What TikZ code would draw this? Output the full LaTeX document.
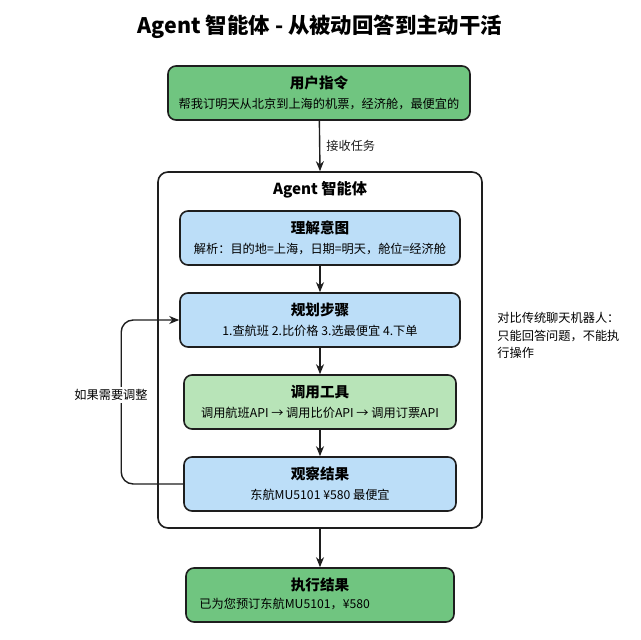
\documentclass[tikz,border=0pt]{standalone}
\usepackage{fontspec}
\setmainfont{Noto Sans CJK SC}
\usetikzlibrary{arrows.meta}
\definecolor{usergr}{RGB}{112,197,128}
\definecolor{stepbl}{RGB}{188,222,248}
\definecolor{toolgr}{RGB}{184,228,184}
\definecolor{edge}{RGB}{30,30,30}
\newcommand{\boxhead}[1]{{\bfseries\fontsize{7.3}{10}\selectfont #1}}
\newcommand{\boxsub}[1]{{\fontsize{6.1}{10}\selectfont #1}}

\begin{document}
\begin{tikzpicture}[x=0.5pt,y=-0.5pt,
  box/.style={draw=edge,line width=0.8pt,rounded corners=4pt,minimum width=#1,
    minimum height=27pt,inner sep=0pt,align=center,font=\fontsize{6.1}{10}\selectfont},
  flow/.style={-{Stealth[length=5pt,width=4pt]},edge,line width=0.7pt},
  lbl/.style={font=\fontsize{6.1}{8.7}\selectfont}]
  \fill[white] (0,0) rectangle (640,640);
  \useasboundingbox (0,0) rectangle (640,640);
  \node[font=\bfseries\fontsize{10.7}{12}\selectfont] (title) at (320,27)
    {Agent 智能体 - 从被动回答到主动干活};
  \node[box=151pt,fill=usergr] (user) at (319,93)
    {\boxhead{用户指令}\\\boxsub{帮我订明天从北京到上海的机票，经济舱，最便宜的}};
  % agent container
  \node[draw=edge,line width=0.8pt,rounded corners=5pt,fill=white,
    minimum width=162pt,minimum height=178pt] (agent) at (320,350) {};
  \node[font=\bfseries\fontsize{7.6}{9}\selectfont] (agtitle) at (320,190) {Agent 智能体};
  \node[box=140pt,fill=stepbl] (understand) at (320,238)
    {\boxhead{理解意图}\\\boxsub{解析：目的地=上海，日期=明天，舱位=经济舱}};
  \node[box=140pt,fill=stepbl] (plan) at (320,320)
    {\boxhead{规划步骤}\\\boxsub{1.查航班 2.比价格 3.选最便宜 4.下单}};
  \node[box=136pt,fill=toolgr] (tool) at (320,402)
    {\boxhead{调用工具}\\\boxsub{调用航班API → 调用比价API → 调用订票API}};
  \node[box=136pt,fill=stepbl] (observe) at (320,484)
    {\boxhead{观察结果}\\\boxsub{东航MU5101 ¥580 最便宜}};
  % result
  \node[box=134pt,fill=usergr] (result) at (320,595) {};
  \node[font=\bfseries\fontsize{7.3}{10}\selectfont] (restitle) at (320,585) {执行结果};
  \node[lbl,anchor=west,inner sep=0pt] (resline) at (199,604) {已为您预订东航MU5101，¥580};
  % connectors
  \draw[flow] (user) -- (agent.north) node[midway,right,lbl,inner sep=3pt] {接收任务};
  \draw[flow] (understand) -- (plan);
  \draw[flow] (plan) -- (tool);
  \draw[flow] (tool) -- (observe);
  \draw[flow] (agent.south) -- (result);
  \draw[flow,rounded corners=6pt] (observe.west) -- ++(-62,0) |- (plan.west);
  \node[lbl,fill=white,inner sep=1pt] (adjust) at (111,395) {如果需要调整};
  \node[lbl,anchor=north west,align=left,inner sep=0pt] (note) at (497,312)
    {对比传统聊天机器人：\\只能回答问题，不能执\\行操作};
\end{tikzpicture}
\end{document}
